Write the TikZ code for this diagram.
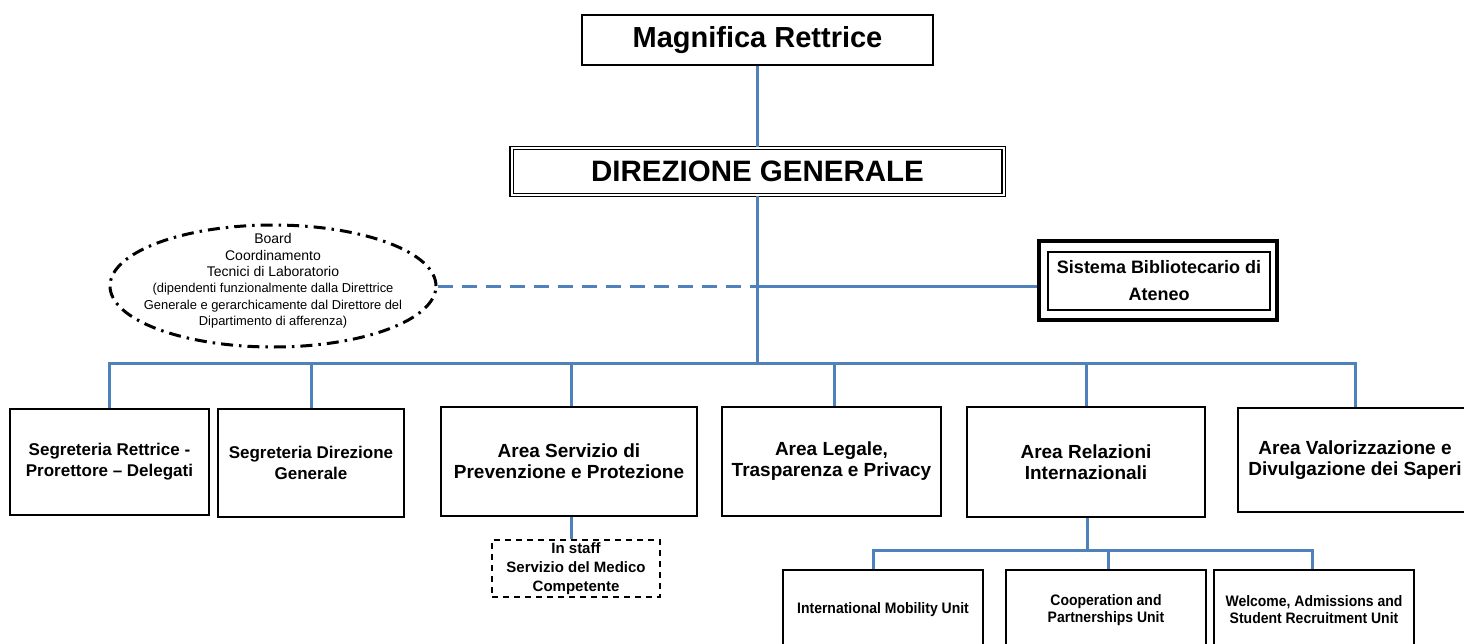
\documentclass[tikz,border=0pt]{standalone}
\usepackage{fontspec}
\setmainfont{Liberation Sans}
\newfontfamily\narrowsf[FakeStretch=0.92]{Liberation Sans}
\usetikzlibrary{shapes.geometric}
\definecolor{orgblue}{RGB}{79,129,189}

\begin{document}
\begin{tikzpicture}[x=1pt,y=-1pt]
    \useasboundingbox (0,0) rectangle (1464,643);
    \clip (0,0) rectangle (1464,643);
    % top of the chart
    \begin{scope}[every node/.style={draw,fill=white,align=center,inner sep=2pt}]
        \node[minimum width=351,minimum height=50,line width=1.8pt,
            font=\bfseries\fontsize{29}{30}\selectfont] (mr) at (757.5,40) {Magnifica Rettrice};
        \node[minimum width=492,minimum height=47,line width=1.4pt,double,double distance=2pt,
            font=\bfseries\fontsize{29.5}{30}\selectfont] (dg) at (757.5,171.5) {DIREZIONE GENERALE};
        \node[minimum width=238,minimum height=79,line width=3.5pt] (sbo) at (1158,280.5) {};
        \node[minimum width=222,minimum height=58,line width=1.1pt,
            font=\bfseries\fontsize{18}{27}\selectfont] (sb) at (1159,281) {Sistema Bibliotecario di\\Ateneo};
        \node[ellipse,minimum width=326,minimum height=122,line width=3pt,
            dash pattern=on 12pt off 6pt on 2.5pt off 6pt] (board) at (273,286) {};
        \node[draw=none,fill=none,font=\fontsize{14}{16.3}\selectfont] (boardtxt) at (273,281)
            {Board\\Coordinamento\\Tecnici di Laboratorio\\
            {\fontsize{12.9}{16.3}\selectfont (dipendenti funzionalmente dalla Direttrice}\\
            {\fontsize{12.9}{16.3}\selectfont Generale e gerarchicamente dal Direttore del}\\
            {\fontsize{12.9}{16.3}\selectfont Dipartimento di afferenza)}};
    \end{scope}
    % areas
    \begin{scope}[every node/.style={draw,fill=white,align=center,inner sep=2pt,
        font=\bfseries\fontsize{19}{21}\selectfont,line width=2.2pt}]
        \node[minimum width=199,minimum height=106,line width=1.3pt,
            font=\bfseries\fontsize{17}{21}\selectfont] (s1) at (109.5,462) {Segreteria Rettrice -\\Prorettore -- Delegati};
        \node[minimum width=186,minimum height=108,line width=1.3pt,
            font=\bfseries\fontsize{17}{21}\selectfont] (s2) at (311,463) {Segreteria Direzione\\Generale};
        \node[minimum width=256,minimum height=109] (a1) at (569,461.5) {Area Servizio di\\Prevenzione e Protezione};
        \node[minimum width=219,minimum height=109] (a2) at (831.5,461.5) {Area Legale,\\Trasparenza e Privacy};
        \node[minimum width=238,minimum height=110] (a3) at (1086,462) {Area Relazioni\\Internazionali};
        \node[minimum width=234,minimum height=104] (a4) at (1355,460) {Area Valorizzazione e\\Divulgazione dei Saperi};
        \node[minimum width=168,minimum height=57,line width=2pt,dash pattern=on 6pt off 5pt,
            font=\bfseries\fontsize{15}{19}\selectfont] (staff) at (576,568.5) {In staff\\Servizio del Medico\\Competente};
    \end{scope}
    % units
    \begin{scope}[every node/.style={draw,fill=white,align=center,inner sep=2pt,line width=1.2pt,
        minimum width=200,minimum height=80,font=\narrowsf\bfseries\fontsize{15.2}{17}\selectfont}]
        \node (u1) at (883,610) {International Mobility Unit};
        \node (u2) at (1106,610) {Cooperation and\\Partnerships Unit};
        \node (u3) at (1314,610) {Welcome, Admissions and\\Student Recruitment Unit};
    \end{scope}
    % connectors
    \coordinate (jn) at (757.5,286);
    \coordinate (bus) at (757.5,363);
    \coordinate (ubus) at (1087,550);
    \begin{scope}[every path/.style={draw=orgblue,line width=3pt}]
        \path (mr) -- (dg);
        \path (dg) -- (bus);
        \path[dash pattern=on 15pt off 9pt] (board.east) -- (jn);
        \path (jn) -- (jn -| sbo.west);
        \path (bus) -| (s1.north);
        \path (bus) -| (s2.north);
        \path (bus) -| ([xshift=2pt]a1.north);
        \path (bus) -| ([xshift=2.5pt]a2.north);
        \path (bus) -| (a3.north);
        \path (bus) -| (a4.north);
        \path ([xshift=2pt]a1.south) -- ([xshift=-5pt]staff.north);
        \path ([xshift=1pt]a3.south) -- (ubus);
        \path (ubus) -| ([xshift=-10pt]u1.north);
        \path (ubus) -| ([xshift=2pt]u2.north);
        \path (ubus) -| ([xshift=-2pt]u3.north);
    \end{scope}
\end{tikzpicture}
\end{document}
